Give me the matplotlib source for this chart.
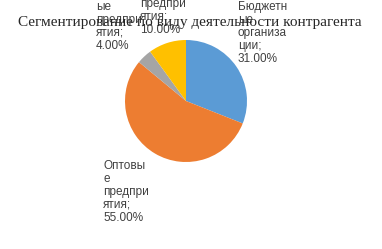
import matplotlib.pyplot as plt

# chart data
segments = ['Бюджетн\nые\nорганиза\nции', 'Оптовы\nе\nпредпри\nятия', 'Розничн\nые\nпредпри\nятия', 'Промыш\nленные\nпредпри\nятия']
shares = [31.0, 55.0, 4.0, 10.0]
colors = ['#5B9BD5', '#ED7D31', '#A5A5A5', '#FFC000']
title = 'Сегментирование по виду деятельности контрагента'

W, H = 382, 249
# top-left corner of each label, in pixels from top-left
label_xy = [(238, 1), (103, 160), (96, -12), (140, -28)]

fig = plt.figure(figsize=(W/100, H/100), dpi=100)
ax = fig.add_axes([0, 0, 1, 1])

ax.pie(shares, colors=colors, startangle=90, counterclock=False,
	center=(186, H-101), radius=61, frame=True)
ax.set_xlim(0, W)
ax.set_ylim(0, H)
ax.axis('off')

for name, val, (x, y) in zip(segments, shares, label_xy):
	ax.text(x, H-y, '%s;\n%.2f%%' % (name, val), ha='left', va='top',
		fontsize=8.5, family='Liberation Sans', color='#404040', linespacing=1.1)

ax.text(190, H-22, title, ha='center', va='center', fontsize=11.0,
	family='Liberation Serif', color='#262626')

fig.savefig('out.png', dpi=100)
